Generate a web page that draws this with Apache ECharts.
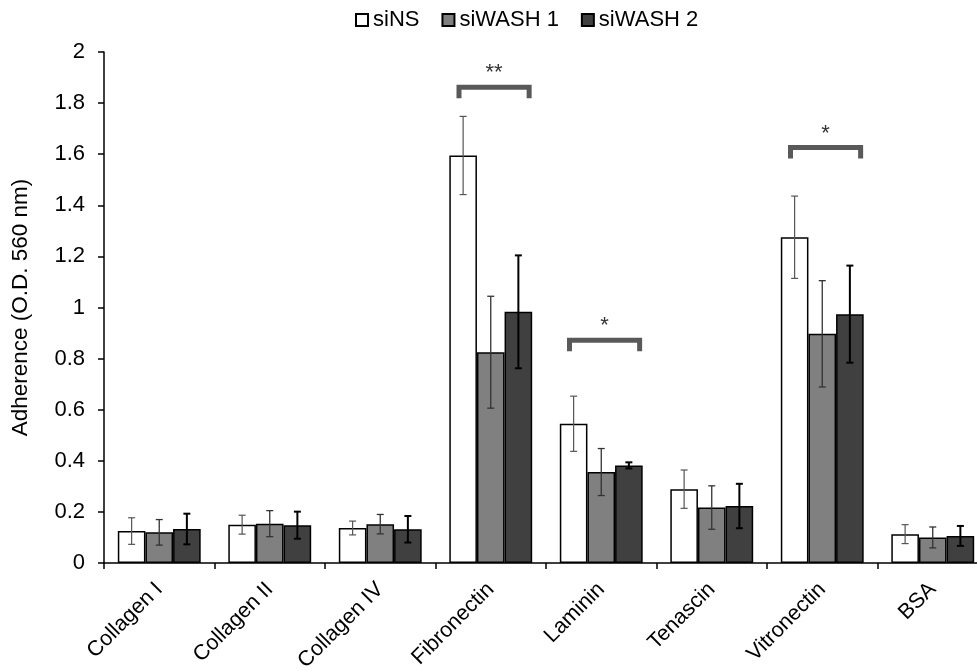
<!DOCTYPE html>
<html>
<head>
<meta charset="utf-8">
<script src="https://cdn.jsdelivr.net/npm/echarts@6/dist/echarts.min.js"></script>
<style>
  html, body { margin: 0; padding: 0; background: #fff; overflow: hidden; }
  /* the reference is cropped on the right, so the chart is a bit wider than the window */
  #chart { width: 988px; height: 671px; }
</style>
</head>
<body>
<div id="chart"></div>
<script>
var categories = ['Collagen I', 'Collagen II', 'Collagen IV', 'Fibronectin', 'Laminin', 'Tenascin', 'Vitronectin', 'BSA'];
var siNS = [0.125, 0.15, 0.137, 1.595, 0.545, 0.289, 1.275, 0.113];
var siNSErr = [0.052, 0.037, 0.027, 0.153, 0.108, 0.075, 0.161, 0.037];
var siWASH1 = [0.12, 0.154, 0.152, 0.825, 0.356, 0.217, 0.897, 0.1];
var siWASH1Err = [0.05, 0.051, 0.038, 0.219, 0.092, 0.085, 0.208, 0.041];
var siWASH2 = [0.133, 0.148, 0.132, 0.983, 0.382, 0.223, 0.974, 0.106];
var siWASH2Err = [0.06, 0.053, 0.052, 0.221, 0.012, 0.087, 0.19, 0.039];

// significance brackets: category index, bracket height, label
var sigCats = [3, 4, 6];
var sigLevels = [1.862, 0.872, 1.626];
var sigLabels = ['**', '*', '*'];

var font = '"Liberation Sans", Arial, sans-serif';

function errData(vals, errs) {
  return vals.map(function (v, i) { return [i, v, errs[i]]; });
}

// error bars drawn on top of the bars; idx = position of the bar inside the group
function errorBars(idx, color, width) {
  return function (params, api) {
    var xi = api.value(0), v = api.value(1), e = api.value(2);
    var band = api.size([1, 0])[0];
    var cx = api.coord([xi, v])[0] + (idx - 1) * band * 0.25;
    var hi = api.coord([xi, v + e])[1];
    var lo = api.coord([xi, v - e])[1];
    var cap = 3.5;
    var st = { stroke: color, lineWidth: width };
    return {
      type: 'group',
      children: [
        { type: 'line', shape: { x1: cx, y1: hi, x2: cx, y2: lo }, style: st },
        { type: 'line', shape: { x1: cx - cap, y1: hi, x2: cx + cap, y2: hi }, style: st },
        { type: 'line', shape: { x1: cx - cap, y1: lo, x2: cx + cap, y2: lo }, style: st }
      ]
    };
  };
}

function bracket(params, api) {
  var xi = api.value(0), lvl = api.value(1);
  var band = api.size([1, 0])[0];
  var p = api.coord([xi, lvl]);
  var left = p[0] - band * 0.31 + 2.5;
  var right = p[0] + band * 0.37 - 2.5;
  var y = p[1];
  return {
    type: 'group',
    children: [
      {
        type: 'polyline',
        shape: { points: [[left, y + 11], [left, y], [right, y], [right, y + 11]] },
        style: { stroke: '#595959', lineWidth: 5, fill: null, lineJoin: 'miter', lineCap: 'butt' }
      },
      {
        type: 'text',
        style: {
          text: sigLabels[params.dataIndex], x: (left + right) / 2, y: y - 14,
          align: 'center', verticalAlign: 'middle', fill: '#333',
          fontSize: 22, fontFamily: font
        }
      }
    ]
  };
}

var chart = echarts.init(document.getElementById('chart'));
chart.setOption({
  animation: false,
  backgroundColor: '#fff',
  legend: {
    data: ['siNS', 'siWASH 1', 'siWASH 2'],
    left: 350,
    top: 4,
    icon: 'rect',
    itemWidth: 12,
    itemHeight: 12,
    itemGap: 22,
    textStyle: { fontSize: 22, fontFamily: font, color: '#000' }
  },
  grid: { left: 104, right: 0, top: 52, bottom: 108, containLabel: false, outerBoundsMode: 'none' },
  xAxis: {
    type: 'category',
    data: categories,
    boundaryGap: true,
    axisLine: { lineStyle: { color: '#000', width: 1.5 } },
    axisTick: { show: true, length: 6, lineStyle: { color: '#000', width: 1.5 } },
    axisLabel: { rotate: 45, fontSize: 21.5, fontFamily: font, color: '#000', margin: 23, interval: 0 }
  },
  yAxis: {
    type: 'value',
    min: 0,
    max: 2,
    interval: 0.2,
    name: 'Adherence (O.D. 560 nm)',
    nameLocation: 'middle',
    nameGap: 72,
    nameTextStyle: { fontSize: 22.5, fontFamily: font, color: '#000' },
    axisLine: { show: true, lineStyle: { color: '#000', width: 1.5 } },
    axisTick: { show: true, length: 6, lineStyle: { color: '#000', width: 1.5 } },
    splitLine: { show: false },
    axisLabel: { fontSize: 22, fontFamily: font, color: '#000', margin: 19 }
  },
  series: [
    {
      name: 'siNS', type: 'bar', data: siNS, barGap: '0%', barCategoryGap: '25%',
      itemStyle: { color: '#fff', borderColor: '#000', borderWidth: 1.5 }
    },
    {
      name: 'siWASH 1', type: 'bar', data: siWASH1,
      itemStyle: { color: '#808080', borderColor: '#000', borderWidth: 1.5 }
    },
    {
      name: 'siWASH 2', type: 'bar', data: siWASH2,
      itemStyle: { color: '#404040', borderColor: '#000', borderWidth: 1.5 }
    },
    { type: 'custom', renderItem: errorBars(0, '#555', 1.2), data: errData(siNS, siNSErr), z: 5 },
    { type: 'custom', renderItem: errorBars(1, '#333', 1.3), data: errData(siWASH1, siWASH1Err), z: 5 },
    { type: 'custom', renderItem: errorBars(2, '#000', 2), data: errData(siWASH2, siWASH2Err), z: 5 },
    {
      type: 'custom', renderItem: bracket, z: 6,
      data: sigCats.map(function (c, k) { return [c, sigLevels[k]]; })
    }
  ]
});
</script>
</body>
</html>
